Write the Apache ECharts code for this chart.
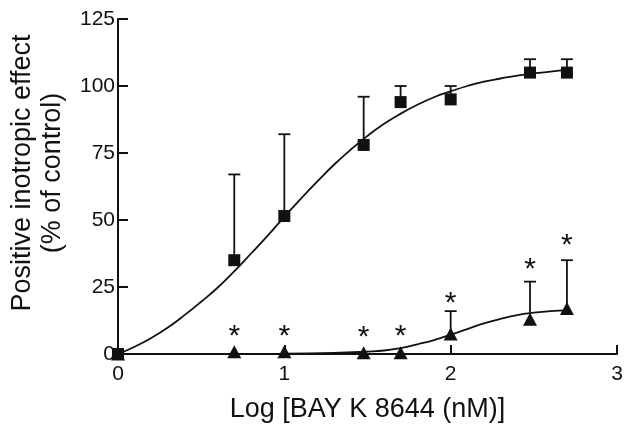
<!DOCTYPE html>
<html>
<head>
<meta charset="utf-8">
<script src="https://cdn.jsdelivr.net/npm/echarts@6/dist/echarts.min.js"></script>
<style>html,body{margin:0;padding:0;background:#fff}#c{width:629px;height:432px}</style>
</head>
<body>
<div id="c"></div>
<script>
// Log concentration (x) of each dose
const doses = [0, 0.699, 1, 1.477, 1.699, 2, 2.477, 2.699];
// Squares: mean and upper error
const sqMean = [0, 35, 51.5, 78, 94, 95, 105, 105];
const sqUpper = [null, 67, 82, 96, 100, 100, 110, 110];
// Triangles: mean and upper error
const triMean = [0, 0.8, 0.8, 0.5, 0.5, 7.5, 13, 17];
const triUpper = [null, null, null, null, null, 16, 27, 35];
// Asterisk positions (x, y)
const starX = [0.699, 1, 1.477, 1.699, 2, 2.477, 2.699];
const starY = [9, 9, 8.5, 9, 21.5, 34, 43];
// Fitted curve
const sqCurveX = [0, 0.1, 0.2, 0.3, 0.4, 0.5, 0.6, 0.7, 0.8, 0.9, 1.0, 1.1, 1.2, 1.3, 1.4, 1.5, 1.6, 1.7, 1.8, 1.9, 2.0, 2.1, 2.2, 2.3, 2.4, 2.5, 2.6, 2.7];
const sqCurveY = [0, 2.7, 6, 9.9, 14.5, 19.5, 24.8, 30.9, 37.5, 44.2, 51.2, 58, 64.5, 70.7, 76.3, 81.4, 85.9, 89.7, 93, 95.8, 98, 100, 101.6, 102.8, 103.9, 104.7, 105.4, 105.9];
const triCurveX = [0, 0.5, 1.0, 1.3, 1.5, 1.6, 1.7, 1.8, 1.9, 2.0, 2.1, 2.2, 2.3, 2.4, 2.5, 2.6, 2.7];
const triCurveY = [0, 0, 0.1, 0.4, 0.9, 1.3, 2.2, 3.6, 5.2, 7.2, 9.3, 11.4, 13.1, 14.5, 15.4, 16.0, 16.3];
// Axis ticks
const xTicks = [0, 1, 2, 3];
const yTicks = [0, 25, 50, 75, 100, 125];

const INK = '#111';
const FONT = 'Liberation Sans, Arial, sans-serif';

const zip = (a, b) => a.map((v, i) => [v, b[i]]);
const errData = (means, uppers) => doses.map((x, i) => uppers[i] == null ? null : [x, means[i], uppers[i]]).filter(d => d);

function errRender(params, api) {
  const x = api.value(0);
  const p0 = api.coord([x, api.value(1)]);
  const p1 = api.coord([x, api.value(2)]);
  const hw = 6;
  const st = { stroke: INK, lineWidth: 1.8 };
  return {
    type: 'group',
    children: [
      { type: 'line', shape: { x1: p0[0], y1: p0[1], x2: p1[0], y2: p1[1] }, style: st },
      { type: 'line', shape: { x1: p1[0] - hw, y1: p1[1], x2: p1[0] + hw, y2: p1[1] }, style: st }
    ]
  };
}

const chart = echarts.init(document.getElementById('c'), null, { renderer: 'canvas' });
chart.setOption({
  animation: false,
  backgroundColor: '#fff',
  grid: { left: 114.5, right: 12, top: 19, bottom: 78, containLabel: false },
  xAxis: {
    type: 'value', min: xTicks[0], max: xTicks[xTicks.length - 1], interval: 1,
    name: 'Log [BAY K 8644 (nM)]', nameLocation: 'middle', nameGap: 42,
    nameTextStyle: { fontFamily: FONT, fontSize: 27, color: INK },
    axisLine: { show: true, onZero: false, lineStyle: { color: INK, width: 2 } },
    axisTick: { show: true, inside: true, length: 9, lineStyle: { color: INK, width: 2 } },
    axisLabel: { fontFamily: FONT, fontSize: 21, color: INK, margin: 10 },
    splitLine: { show: false }
  },
  yAxis: {
    type: 'value', min: yTicks[0], max: yTicks[yTicks.length - 1], interval: 25,
    name: 'Positive inotropic effect\n(% of control)', nameLocation: 'middle', nameGap: 50,
    nameTextStyle: { fontFamily: FONT, fontSize: 27, color: INK, lineHeight: 30, padding: [0, 0, 0, 27] },
    axisLine: { show: true, onZero: false, lineStyle: { color: INK, width: 2 } },
    axisTick: { show: true, inside: true, length: 10, lineStyle: { color: INK, width: 2 } },
    axisLabel: { fontFamily: FONT, fontSize: 21, color: INK, margin: 3 },
    splitLine: { show: false }
  },
  series: [
    { type: 'line', data: zip(sqCurveX, sqCurveY), smooth: true, showSymbol: false, symbol: 'none', lineStyle: { color: INK, width: 1.8 }, z: 2 },
    { type: 'line', data: zip(triCurveX, triCurveY), smooth: true, showSymbol: false, symbol: 'none', lineStyle: { color: INK, width: 1.8 }, z: 2 },
    { type: 'custom', data: errData(sqMean, sqUpper), renderItem: errRender, z: 3 },
    { type: 'custom', data: errData(triMean, triUpper), renderItem: errRender, z: 3 },
    { type: 'scatter', data: zip(doses, sqMean), symbol: 'rect', symbolSize: 12, itemStyle: { color: INK, opacity: 1 }, z: 5 },
    { type: 'scatter', data: zip(doses, triMean), symbol: 'triangle', symbolSize: [14, 13], itemStyle: { color: INK, opacity: 1 }, z: 5 },
    { type: 'scatter', data: zip(starX, starY), symbol: 'circle', symbolSize: 0, z: 6, itemStyle: { opacity: 1 },
      label: { show: true, position: 'inside', formatter: '*', fontFamily: FONT, fontSize: 30, color: INK, opacity: 1, offset: [0, 7] } }
  ]
});
</script>
</body>
</html>
